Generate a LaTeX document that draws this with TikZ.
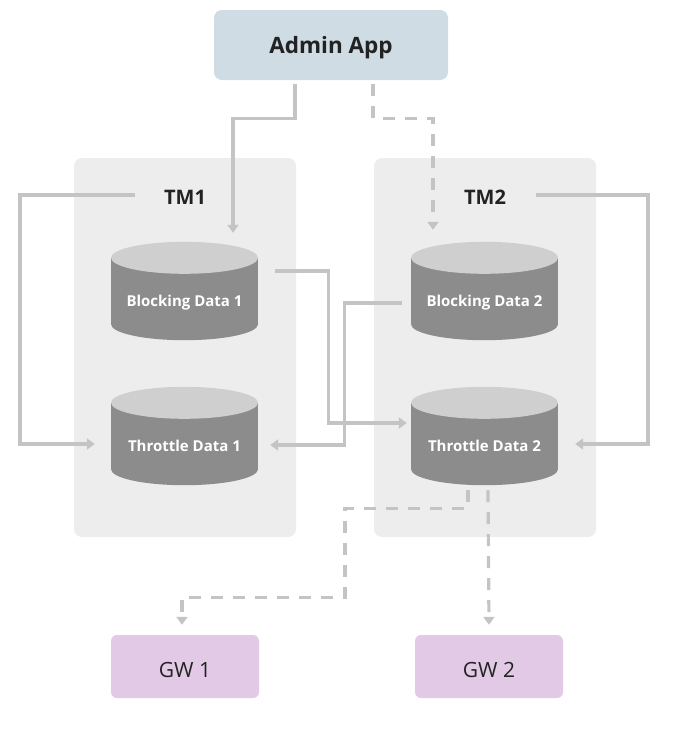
\documentclass[tikz,border=0pt]{standalone}
\usepackage{fontspec}
\setmainfont{Open Sans}
\usetikzlibrary{arrows.meta}
\definecolor{adminfill}{HTML}{CFDCE4}
\definecolor{gwfill}{HTML}{E2CAE6}
\definecolor{boxfill}{HTML}{EDEDED}
\definecolor{linec}{HTML}{C4C4C4}
\definecolor{cylbody}{HTML}{8C8C8C}
\definecolor{cyltop}{HTML}{CFCFCF}
\definecolor{txt}{HTML}{222222}
\tikzset{
  appbox/.style={rounded corners=8pt, minimum width=234pt, minimum height=70pt, fill=adminfill},
  apptext/.style={text=txt, font=\fontsize{22.5}{26}\selectfont\bfseries},
  gwbox/.style={rounded corners=6pt, minimum width=148pt, minimum height=63pt, fill=gwfill},
  gwtext/.style={text=txt, font=\fontsize{21}{25}\selectfont},
  tmlabel/.style={text=txt, font=\fontsize{20}{24}\selectfont\bfseries},
  cylnode/.style={minimum width=147pt, minimum height=82pt, inner sep=0pt, text=white, font=\fontsize{15}{18}\selectfont\bfseries},
  conn/.style={draw=linec, line width=3.2pt, -{Triangle[width=11pt,length=8pt]}},
  dconn/.style={conn, dash pattern=on 12pt off 10pt},
}
\newcommand{\cylshape}[1]{%
  \fill[cylbody] (#1.north west) rectangle ([yshift=16pt]#1.south east);
  \fill[cylbody] ([yshift=16pt]#1.south) ellipse [x radius=73.5pt, y radius=16pt];
  \fill[cyltop] (#1.north) ellipse [x radius=73.5pt, y radius=16pt];
}
\begin{document}
\begin{tikzpicture}[x=1pt,y=-1pt]
\useasboundingbox (0,0) rectangle (673,742);
% containers
\fill[boxfill, rounded corners=8pt] (74,158) rectangle (296,537);
\fill[boxfill, rounded corners=8pt] (374,158) rectangle (596,537);
% nodes
\node[appbox] (admin) at (331,45) {};
\node[apptext] at ([yshift=-2.5pt]admin.center) {Admin App};
\node[tmlabel] (tm1) at (185,197) {TM1};
\node[tmlabel] (tm2) at (485,197) {TM2};
\node[cylnode] (bd1) at (184.5,299) {};
\node[cylnode] (td1) at (184.5,444) {};
\node[cylnode] (bd2) at (484.5,299) {};
\node[cylnode] (td2) at (484.5,444) {};
\cylshape{bd1}\cylshape{td1}\cylshape{bd2}\cylshape{td2}
\node[cylnode] at ([yshift=-4pt]bd1.center) {Blocking Data 1};
\node[cylnode] at ([yshift=-2pt]td1.center) {Throttle Data 1};
\node[cylnode] at ([yshift=-4pt]bd2.center) {Blocking Data 2};
\node[cylnode] at ([yshift=-2pt]td2.center) {Throttle Data 2};
\node[gwbox] (gw1) at (185,666.5) {};
\node[gwbox] (gw2) at (489,666.5) {};
\node[gwtext] at ([yshift=-3pt]gw1.center) {GW 1};
\node[gwtext] at ([yshift=-3pt]gw2.center) {GW 2};
% connectors
\draw[conn] ([xshift=-36pt,yshift=-4pt]admin.south) -- ++(0,34) -| ([xshift=48.5pt,yshift=25pt]bd1.north);
\draw[dconn] ([xshift=42pt,yshift=-4pt]admin.south) -- ++(0,34) -| ([xshift=-51.5pt,yshift=28pt]bd2.north);
\draw[conn] ([xshift=-50pt,yshift=2pt]tm1.center) -- ++(-115,0) |- ([xshift=-16pt]td1.west);
\draw[conn] ([xshift=51pt,yshift=2pt]tm2.center) -- ++(112,0) |- ([xshift=17pt]td2.east);
\draw[conn] ([xshift=17pt,yshift=28pt]bd1.east) -- ++(53,0) |- ([xshift=-4pt,yshift=21pt]td2.west);
\draw[conn] ([xshift=-9pt,yshift=-4pt]bd2.west) -- ++(-57,0) |- ([xshift=12pt,yshift=-1pt]td1.east);
\draw[dconn] ([xshift=-16.5pt,yshift=-5pt]td2.south) -- ++(0,18) -| ++(-123,89) -| ([xshift=-3pt,yshift=10pt]gw1.north);
\draw[dconn] ([xshift=3.5pt,yshift=-5pt]td2.south) -- ([yshift=10pt]gw2.north);
\end{tikzpicture}
\end{document}
